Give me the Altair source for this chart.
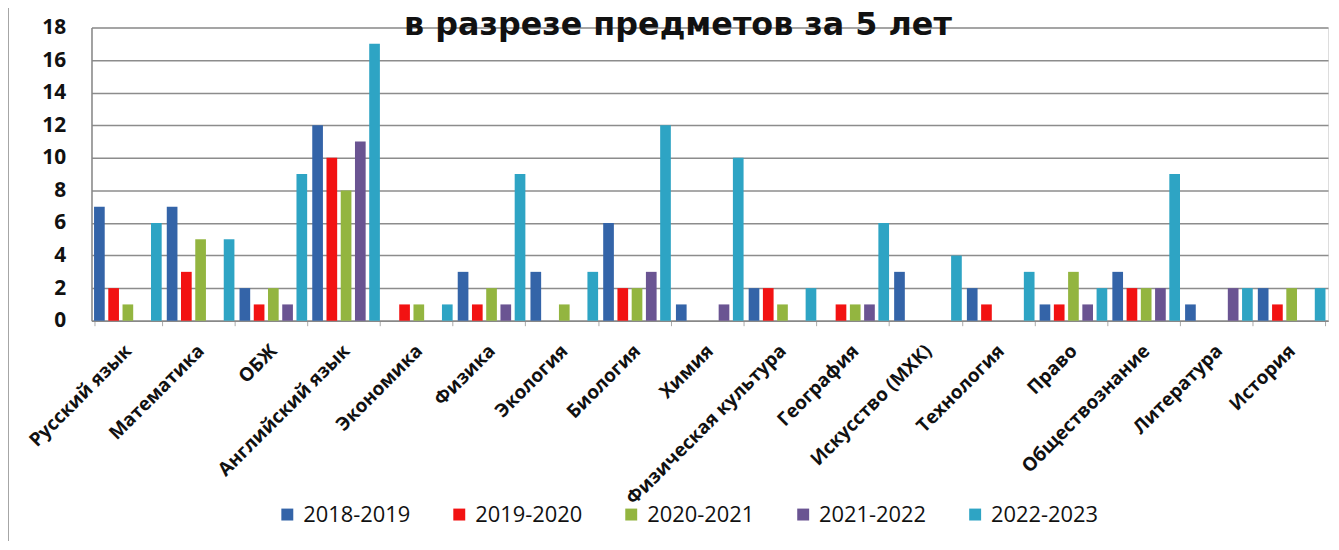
import altair as alt
import pandas as pd

subjects = ["Русский язык", "Математика", "ОБЖ", "Английский язык", "Экономика",
            "Физика", "Экология", "Биология", "Химия", "Физическая культура",
            "География", "Искусство (МХК)", "Технология", "Право",
            "Обществознание", "Литература", "История"]
years = ["2018-2019", "2019-2020", "2020-2021", "2021-2022", "2022-2023"]

v2018 = [7, 7, 2, 12, 0, 3, 3, 6, 1, 2, 0, 3, 2, 1, 3, 1, 2]
v2019 = [2, 3, 1, 10, 1, 1, 0, 2, 0, 2, 1, 0, 1, 1, 2, 0, 1]
v2020 = [1, 5, 2, 8, 1, 2, 1, 2, 0, 1, 1, 0, 0, 3, 2, 0, 2]
v2021 = [0, 0, 1, 11, 0, 1, 0, 3, 1, 0, 1, 0, 0, 1, 2, 2, 0]
v2022 = [6, 5, 9, 17, 1, 9, 3, 12, 10, 2, 6, 4, 3, 2, 9, 2, 2]

title_text = ["в разрезе предметов за 5 лет"]

colors = ["#3464a8", "#f21212", "#93b540", "#6a5492", "#2ea4c4"]

series = [v2018, v2019, v2020, v2021, v2022]
rows = []
for y, vals in zip(years, series):
    for s, v in zip(subjects, vals):
        rows.append({"subject": s, "year": y, "value": v})
df = pd.DataFrame(rows)

FONT = "Open Sans"

bars = alt.Chart(df).mark_bar().encode(
    x=alt.X("subject:N", sort=subjects,
            scale=alt.Scale(paddingInner=0.07, paddingOuter=0.035),
            axis=alt.Axis(title=None, labelAngle=-45, labelAlign="right",
                          labelBaseline="middle", labelFont=FONT, labelFontSize=19,
                          labelFontWeight="bold", labelColor="#111", labelPadding=22,
                          ticks=True, tickBand="extent", tickColor="#aaaaaa", tickSize=5,
                          domainColor="#888888", domainWidth=1.5, grid=False,
                          labelLimit=400)),
    xOffset=alt.XOffset("year:N", sort=years, scale=alt.Scale(paddingInner=0.25)),
    y=alt.Y("value:Q", scale=alt.Scale(domain=[0, 18], nice=False),
            axis=alt.Axis(values=list(range(0, 19, 2)), title=None, grid=True,
                          gridColor="#8c8c8c", gridWidth=1.5, domainColor="#888888",
                          domainWidth=1.5, ticks=False, labelPadding=26, labelFont=FONT,
                          labelFontSize=21, labelFontWeight="bold", labelColor="#111")),
    color=alt.Color("year:N", sort=years,
                    scale=alt.Scale(domain=years, range=colors),
                    legend=alt.Legend(title=None, orient="none", legendX=186, legendY=479,
                                      direction="horizontal", symbolType="square",
                                      symbolSize=144, symbolStrokeWidth=0,
                                      labelFont=FONT, labelFontSize=22, labelColor="#111",
                                      labelOffset=5, columnPadding=38)),
)

title = alt.Chart(pd.DataFrame({"t": title_text})).mark_text(
    font="DejaVu Sans", fontSize=32, fontWeight="bold", color="#111",
    align="center", baseline="alphabetic"
).encode(text="t:N", x=alt.value(590), y=alt.value(8))

border = alt.Chart(alt.Data(values=[{}])).mark_rule(color="#888888", strokeWidth=1.5).encode(
    x=alt.value(-84), y=alt.value(-30), y2=alt.value(540)
)

chart = alt.layer(bars, title, border).properties(
    width=1244, height=295,
    autosize=alt.AutoSizeParams(type="none"),
    padding={"left": 84, "top": 18, "right": 3, "bottom": 220},
).configure_view(strokeWidth=0).configure(background="white")

chart.save("out.html", embed_options={"renderer": "svg", "actions": False})
